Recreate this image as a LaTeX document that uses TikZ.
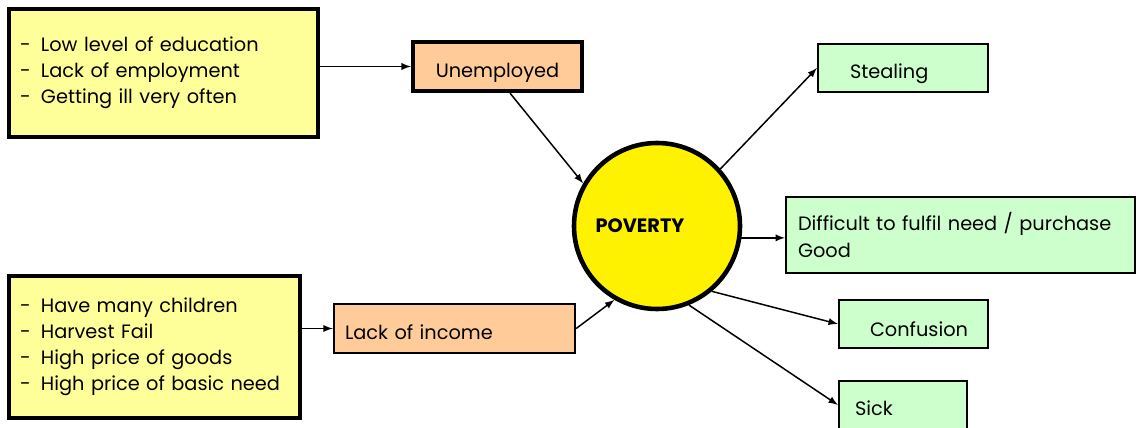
\documentclass[tikz,border=0pt]{standalone}
\usepackage{fontspec}
\setmainfont{Poppins}
\usepackage{tikz}
\usetikzlibrary{positioning,calc}

\newcommand{\dashitem}[1]{\makebox[0.42cm][l]{-}#1}

\begin{document}
\begin{tikzpicture}[
    causebox/.style={rectangle, draw=black, line width=2pt, fill={rgb,255:red,255;green,255;blue,153}, align=left, inner xsep=0.22cm, font=\fontsize{11}{14.8}\selectfont},
    orangebox/.style={rectangle, draw=black, fill={rgb,255:red,255;green,204;blue,153}, minimum height=0.98cm, text height=0.52cm, text depth=0.085cm, font=\fontsize{11}{14.8}\selectfont},
    greenbox/.style={rectangle, draw=black, line width=1.2pt, fill={rgb,255:red,204;green,255;blue,204}, align=left, font=\fontsize{11}{15.4}\selectfont},
    oneline/.style={minimum height=0.96cm, text height=0.50cm, text depth=0.085cm},
    arrow/.style={->, >=latex, line width=0.85pt}
]
\useasboundingbox (0,0) rectangle (22.72,8.54);

% causes
\node[causebox, text width=5.74cm, minimum height=2.56cm] (causeone) at (3.27,7.08)
    {\dashitem{Low level of education}\\\dashitem{Lack of employment}\\\dashitem{Getting ill very often}};
\node[orangebox, line width=2.4pt, minimum width=3.38cm] (unemp) at (9.95,7.21) {Unemployed};

\node[causebox, text width=5.38cm, minimum height=2.84cm] (causetwo) at (3.09,1.60)
    {\dashitem{Have many children}\\\dashitem{Harvest Fail}\\\dashitem{High price of goods}\\\dashitem{High price of basic need}};
\node[orangebox, line width=1.4pt, align=left, inner xsep=0.22cm, text width=4.38cm] (income) at (9.09,1.97) {Lack of income};

% centre
\node[circle, draw=black, line width=2.6pt, fill=yellow, minimum size=3.32cm, font=\bfseries\fontsize{11}{13}\selectfont] (poverty) at (13.14,4.02) {POVERTY\hspace*{0.68cm}};

% effects
\node[greenbox, oneline, inner xsep=0.64cm, text width=2.12cm] (steal) at (18.06,7.18) {Stealing};
\node[greenbox, inner xsep=0.24cm, text width=6.50cm, minimum height=1.52cm] (diff) at (19.21,3.84) {Difficult to fulfil need / purchase\\Good};
\node[greenbox, oneline, inner xsep=0.62cm, text width=1.74cm, text height=0.58cm] (conf) at (18.27,2.06) {Confusion};
\node[greenbox, oneline, inner xsep=0.32cm, text width=1.92cm] (sick) at (18.06,0.44) {Sick};

\draw[arrow] (causeone.east |- unemp.west) -- (unemp.west);
\draw[arrow] ([xshift=0.25cm]unemp.south) -- (poverty.150);
\draw[arrow] (causetwo.east |- income.west) -- (income.west);
\draw[arrow] (income.east) -- (poverty.240);

\draw[arrow] (poverty.42) -- (steal.west);
\draw[arrow] (poverty.352) -- (diff.west |- poverty.352);
\draw[arrow] (poverty.310) -- (conf.west);
\draw[arrow] (poverty.292) -- (sick.west);

\end{tikzpicture}
\end{document}
